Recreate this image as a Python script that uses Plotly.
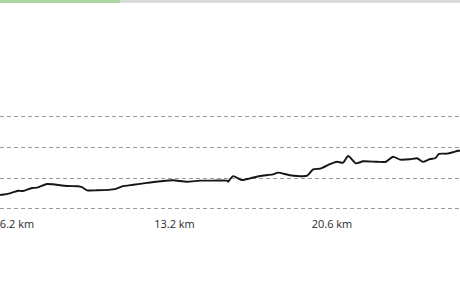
import plotly.graph_objects as go

# elapsed time (min) and elevation (m)
time_min = [35.7, 38.2, 40.3, 41.5, 43.8, 45.1, 47.6, 49.1, 52.7, 55.5, 56.5, 57.8, 60.3,
            64.9, 66.7, 69.5, 73.0, 77.1, 79.6, 83.2, 86.5, 89.8, 93.3, 93.6, 94.1, 94.9,
            97.1, 99.2, 101.7, 105.0, 106.3, 109.3, 113.7, 115.2, 117.0, 119.5, 121.3,
            122.8, 124.1, 126.1, 127.9, 131.4, 133.7, 135.5, 137.3, 139.8, 141.6, 143.1,
            144.9, 146.2, 147.2, 149.2, 150.7, 152.0, 152.5]
elev_m = [9.1, 10.2, 11.9, 11.7, 13.7, 13.9, 16.3, 16.1, 15.0, 14.8, 14.2, 12.2, 12.2,
          13.0, 14.8, 15.8, 17.0, 18.3, 18.7, 17.8, 18.5, 18.5, 18.5, 17.8, 19.4, 21.4,
          18.9, 20.0, 21.5, 22.6, 23.7, 22.0, 21.7, 25.9, 26.3, 29.3, 30.8,
          30.2, 34.6, 29.8, 31.1, 30.8, 30.8, 34.1, 32.2, 32.4, 33.1, 30.7,
          32.6, 33.1, 35.9, 36.1, 37.0, 38.0, 38.0]

tick_times = [40, 80, 120]
tick_labels = ["6.2 km", "13.2 km", "20.6 km"]
grid_vals = [0, 20, 40, 60]

progress_fraction = 120 / 460

fig = go.Figure()
fig.add_trace(go.Scatter(x=time_min, y=elev_m, mode="lines",
                         line=dict(color="#151515", width=1.9, shape="spline", smoothing=0.6),
                         hoverinfo="skip"))

fig.update_layout(
    width=460, height=295,
    margin=dict(l=0, r=0, t=0, b=83),
    paper_bgcolor="white", plot_bgcolor="white",
    showlegend=False,
    font=dict(family="Open Sans", size=11, color="#2a2a2a"),
    xaxis=dict(range=[35.68, 152.51], tickvals=tick_times, ticktext=tick_labels,
               showgrid=False, zeroline=False, showline=False, ticks="",
               ticklabelstandoff=4, ticklabeloverflow="allow", fixedrange=True),
    yaxis=dict(range=[-1.96, 136.3], tickvals=grid_vals, showticklabels=False,
               showgrid=True, gridcolor="#9a9a9a", gridwidth=1, griddash="4px,3px",
               zeroline=False, showline=False, fixedrange=True),
    shapes=[
        dict(type="rect", xref="paper", yref="paper", x0=0, x1=progress_fraction,
             y0=1 - 3 / 212, y1=1, fillcolor="#abd6a3", line=dict(width=0), layer="above"),
        dict(type="rect", xref="paper", yref="paper", x0=progress_fraction, x1=1,
             y0=1 - 3 / 212, y1=1, fillcolor="#dcdcdc", line=dict(width=0), layer="above"),
    ],
)

fig.write_html("out.html")
